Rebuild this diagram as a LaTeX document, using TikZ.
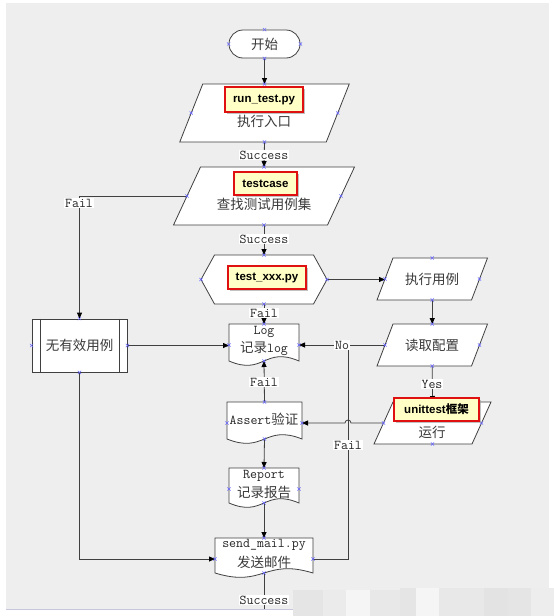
\documentclass[tikz,border=0pt]{standalone}
\usepackage{fontspec}
\newfontfamily\cjk{Noto Sans CJK SC}
\newfontfamily\callfont{Liberation Sans}
\usetikzlibrary{arrows.meta,shadows,calc}
\definecolor{bg}{HTML}{EEEEEE}
\definecolor{linec}{HTML}{404040}
\definecolor{txtc}{HTML}{3A3A3A}
\definecolor{ttc}{HTML}{262626}
\definecolor{callfill}{HTML}{FFFFC6}
\definecolor{callred}{HTML}{E01010}
\definecolor{cpblue}{HTML}{6666FF}
\definecolor{lav}{HTML}{C8C6DC}
\newcommand\drawpara[2]{\draw[shp] ($(#1.north west)+(#2,0)$) -- ($(#1.north east)+(#2,0)$) -- ($(#1.south east)-(#2,0)$) -- ($(#1.south west)-(#2,0)$) -- cycle;}
\newcommand\drawhex[2]{\draw[shp] (#1.west) -- ($(#1.north west)+(#2,0)$) -- ($(#1.north east)-(#2,0)$) -- (#1.east) -- ($(#1.south east)-(#2,0)$) -- ($(#1.south west)+(#2,0)$) -- cycle;}
\newcommand\drawdoc[2]{\draw[shp] (#1.south west) -- (#1.north west) -- (#1.north east) -- (#1.south east) .. controls ($(#1.south)+(0,#2)$) and ($(#1.south)-(0,#2)$) .. (#1.south west) -- cycle;}
\newcommand\cmk[1]{\draw[cp] (#1) +(-1.6pt,-1.6pt) -- +(1.6pt,1.6pt) +(-1.6pt,1.6pt) -- +(1.6pt,-1.6pt);}
\begin{document}
\begin{tikzpicture}[x=1pt,y=-1pt,
  shp/.style={draw=linec, line width=0.8pt, fill=white},
  frm/.style={rectangle, draw=none, inner sep=0pt, outer sep=0pt},
  ln/.style={draw=linec, line width=0.8pt},
  arr/.style={ln, -{Triangle[length=6pt,width=5pt,color=black]}},
  lbl/.style={fill=white, inner sep=0.8pt, text=ttc, font=\ttfamily\fontsize{13.5}{14}\selectfont},
  txt/.style={inner sep=0pt, text=txtc, font=\fontsize{13.5}{15}\selectfont},
  ttx/.style={inner sep=0pt, text=ttc, font=\ttfamily\fontsize{13.5}{14}\selectfont},
  call/.style={draw=callred, line width=1.3pt, fill=callfill, inner sep=0pt, font=\callfont\bfseries\fontsize{11.5}{12}\selectfont, drop shadow={shadow xshift=1.8pt, shadow yshift=-1.8pt, fill=black!40, opacity=0.6}},
  cp/.style={draw=cpblue, line width=0.5pt}
]
% background
\useasboundingbox (0,0) rectangle (554,616);
\fill[white] (0,0) rectangle (554,616);
\fill[bg] (6,3) rectangle (549,609);
\draw[lav, line width=1.5pt] (6,609.5) -- (293,609.5);
\fill[black!10] (293,590) rectangle (323,616);
\fill[black!8] (323,590) rectangle (346,616);
\fill[black!4] (346,590) rectangle (370,616);
\fill[black!9] (370,590) rectangle (400,616);
\fill[black!10] (400,588) rectangle (416,616);
\fill[black!4] (416,588) rectangle (439,616);
\fill[black!9] (439,588) rectangle (484,616);
\fill[black!11] (484,588) rectangle (508,616);
\fill[black!10] (508,588) rectangle (531,616);
\fill[black!7] (531,588) rectangle (554,616);

% shapes
\node[shp, rounded corners=14pt, minimum width=71pt, minimum height=28pt, inner sep=0pt, text=txtc, font=\fontsize{13.5}{15}\selectfont] (start) at (264.5,44) {\cjk 开始};
\node[frm, minimum width=146.5pt, minimum height=58pt] (p1) at (264.5,113) {};
\drawpara{p1}{11.5pt}
\node[frm, minimum width=154pt, minimum height=58pt] (p2) at (264,196) {};
\drawpara{p2}{13.5pt}
\node[frm, minimum width=126pt, minimum height=49pt] (hex) at (264,279.5) {};
\drawhex{hex}{13.5pt}
\node[frm, minimum width=94.5pt, minimum height=42pt] (exec) at (432.25,279) {};
\drawpara{exec}{8pt}
\node[frm, minimum width=94.5pt, minimum height=42pt] (read) at (432.25,345) {};
\drawpara{read}{8pt}
\node[frm, minimum width=98pt, minimum height=42pt] (run) at (432.5,423) {};
\drawpara{run}{9.5pt}
\node[shp, minimum width=95pt, minimum height=53pt, inner sep=0pt, text=txtc, font=\fontsize{13.5}{15}\selectfont] (noeff) at (79.5,345.5) {\cjk 无有效用例};
\draw[ln] ([xshift=9pt]noeff.north west) -- ([xshift=9pt]noeff.south west);
\draw[ln] ([xshift=-8pt]noeff.north east) -- ([xshift=-8pt]noeff.south east);
\node[frm, minimum width=70pt, minimum height=37pt] (log) at (264,342.5) {};
\drawdoc{log}{15pt}
\node[frm, minimum width=75pt, minimum height=37pt] (asrt) at (264.5,420.5) {};
\drawdoc{asrt}{15pt}
\node[frm, minimum width=70pt, minimum height=35pt] (rep) at (264,485.5) {};
\drawdoc{rep}{15pt}
\node[frm, minimum width=98pt, minimum height=35pt] (send) at (264,555.5) {};
\drawdoc{send}{15pt}

% connectors
\draw[arr] (start.south) -- (p1.north);
\draw[arr] (p1.south) -- (p2.north);
\draw[arr] (p2.west) -| (noeff.north);
\draw[arr] (p2.south) -- (hex.north);
\draw[arr] (hex.east) -- (hex.east -| exec.west);
\draw[arr] (exec.south) -- (read.north);
\draw[arr] (read.west) -- (read.west -| log.east);
\coordinate (jn) at (348,345);
\draw[ln] ([yshift=-3.5pt]send.east) -| (jn);
\draw[arr] (read.south) -- (run.north);
\draw[arr] (run.west) -- (351,423) arc[start angle=0, end angle=180, radius=3pt] -- (run.west -| asrt.east);
\draw[arr] (hex.south) -- (log.north);
\draw[arr] (noeff.east) -- (noeff.east -| log.west);
\draw[arr] (asrt.north) -- (log.south);
\draw[arr] (asrt.south) -- (rep.north);
\draw[arr] (rep.south) -- (send.north);
\draw[arr] (noeff.south) |- ([yshift=-3.5pt]send.west);
\coordinate (endpt) at (264,609);
\draw[ln] (send.south) -- (endpt);

% connector labels
\node[lbl] (l1) at (264,155) {Success};
\node[lbl] (l2) at (264,239) {Success};
\node[lbl] (l3) at (79,203) {Fail};
\node[lbl] (l4) at (264,313) {Fail};
\node[lbl] (l5) at (342,345) {No};
\node[lbl] (l6) at (432,384) {Yes};
\node[lbl] (l7) at (264,382) {Fail};
\node[lbl] (l8) at (348,445) {Fail};
\node[lbl] (l9) at (264,600) {Success};

% texts in shapes
\node[txt] (p1t) at (264,121) {\cjk 执行入口};
\node[txt] (p2t) at (264,204) {\cjk 查找测试用例集};
\node[txt] (exect) at (432,279) {\cjk 执行用例};
\node[txt] (readt) at (432,345) {\cjk 读取配置};
\node[txt] (runt) at (432,432) {\cjk 运行};
\node[ttx] (logt1) at (264,332) {Log};
\node[txt] (logt2) at (264,349) {{\cjk 记录}{\ttfamily\color{ttc}log}};
\node[txt] (asrtt) at (264,419) {{\ttfamily\color{ttc}Assert}{\cjk 验证}};
\node[ttx] (rept1) at (264,476) {Report};
\node[txt] (rept2) at (264,492) {\cjk 记录报告};
\node[ttx] (sendt1) at (264,545) {send\_mail.py};
\node[txt] (sendt2) at (264,562) {\cjk 发送邮件};

% connection markers
\foreach \n in {start,p1,p2,hex,exec,read,run,noeff}{
  \cmk{\n.north}\cmk{\n.south}\cmk{\n.east}\cmk{\n.west}}
\cmk{log.north}\cmk{log.south}\cmk{[yshift=-2.5pt]log.east}\cmk{[yshift=-2.5pt]log.west}
\cmk{asrt.north}\cmk{asrt.south}\cmk{[yshift=-2.5pt]asrt.east}\cmk{[yshift=-2.5pt]asrt.west}
\cmk{rep.north}\cmk{rep.south}\cmk{[yshift=-3.5pt]rep.east}\cmk{[yshift=-3.5pt]rep.west}
\cmk{send.north}\cmk{send.south}\cmk{[yshift=-3.5pt]send.east}\cmk{[yshift=-3.5pt]send.west}

% callouts
\node[call, minimum width=78pt, minimum height=25pt] (c1) at (264,99.5) {run\_test.py};
\node[call, minimum width=63pt, minimum height=23pt] (c2) at (265.5,183.5) {testcase};
\node[call, minimum width=78pt, minimum height=23pt] (c3) at (267,277.5) {test\_xxx.py};
\node[call, minimum width=85pt, minimum height=23pt] (c4) at (436.5,409.5) {unittest{\cjk\bfseries 框架}};
\end{tikzpicture}
\end{document}
